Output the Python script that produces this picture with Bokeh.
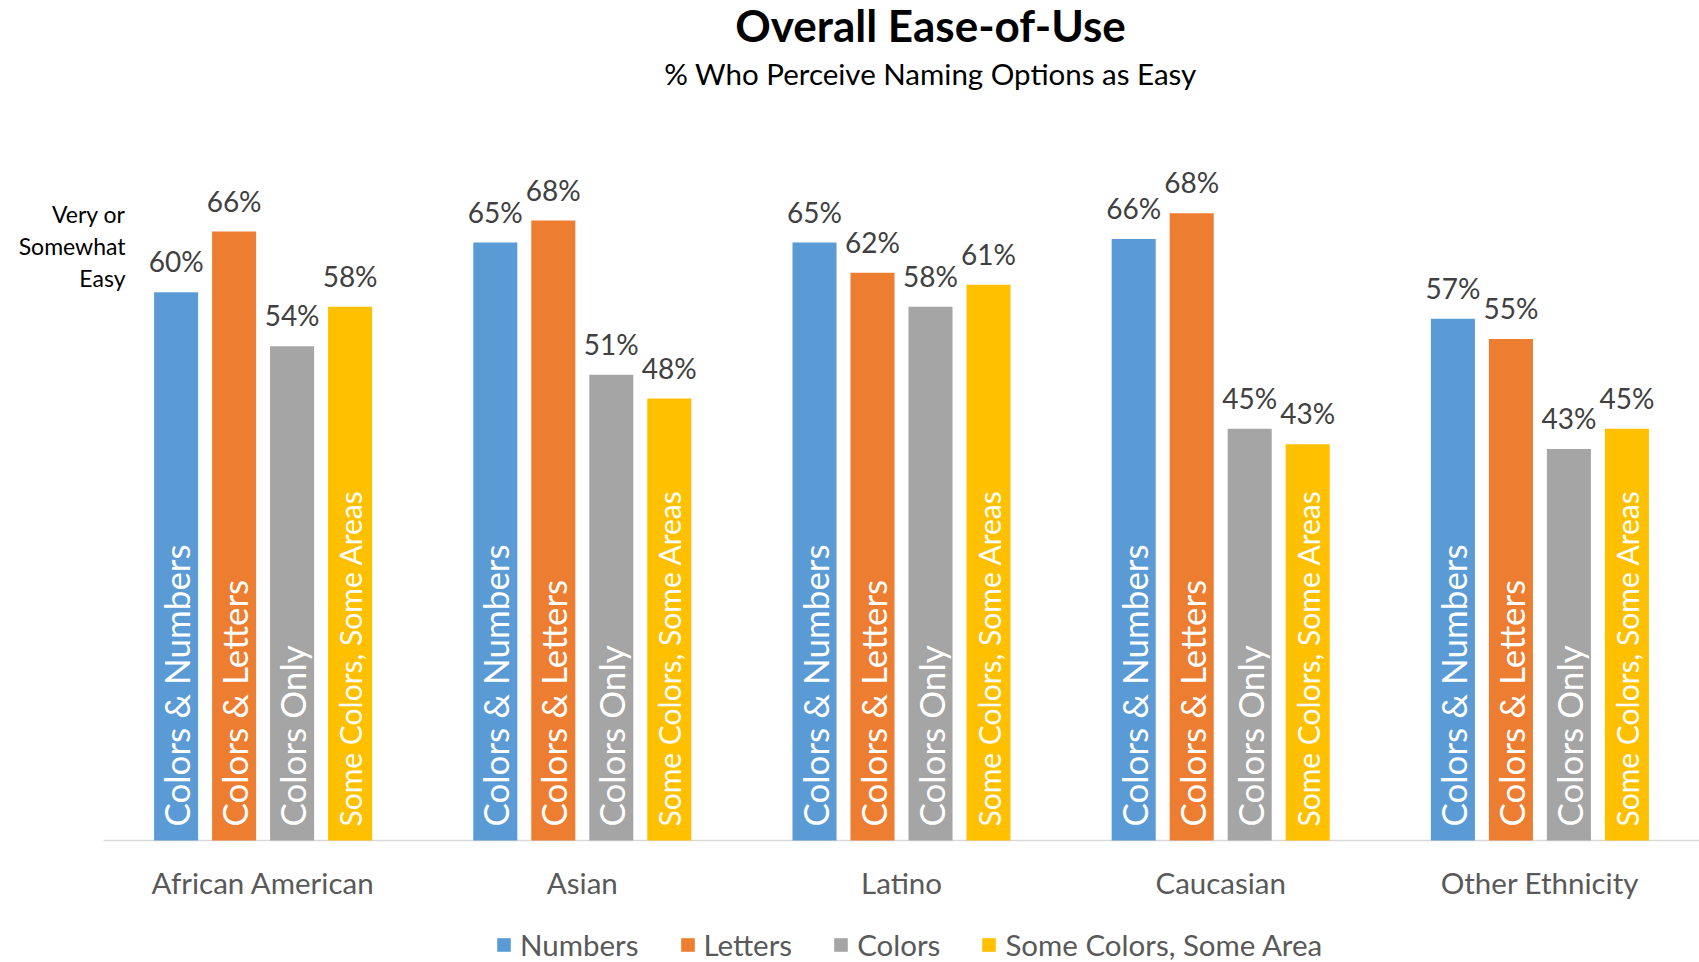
import math
from bokeh.plotting import figure
from bokeh.models import Range1d, ColumnDataSource, Label, Legend, LegendItem
from bokeh.core.properties import value
from bokeh.embed import file_html
from bokeh.resources import INLINE

# ---------------- data ----------------
groups = ["African American", "Asian", "Latino", "Caucasian", "Other Ethnicity"]
series = ["Numbers", "Letters", "Colors", "Some Colors, Some Area"]
bar_labels = ["Colors & Numbers", "Colors & Letters", "Colors Only", "Some Colors, Some Areas"]
numbers = [59.8, 65.2, 65.2, 65.6, 56.9]
letters = [66.4, 67.6, 61.9, 68.4, 54.7]
colors_only = [53.9, 50.8, 58.2, 44.9, 42.7]
some_areas = [58.2, 48.2, 60.6, 43.2, 44.9]
series_values = [numbers, letters, colors_only, some_areas]
palette = ["#5B9BD5", "#ED7D31", "#A5A5A5", "#FFC000"]

FONT = "Lato"
W, H = 1699, 962

# frame covers the whole canvas; ranges chosen so that the category band
# starts ~103px from the left and the baseline sits ~840px from the top
p = figure(x_range=Range1d(-0.8227, 4.5), y_range=Range1d(-13.30, 91.60),
           width=W, height=H, output_backend="svg", toolbar_location=None,
           min_border_left=0, min_border_right=0, min_border_top=0,
           min_border_bottom=0, background_fill_color="white",
           border_fill_color="white")
p.xaxis.visible = False
p.yaxis.visible = False
p.grid.visible = False
p.outline_line_color = None

step = 0.1817
bar_w = 0.138
offsets = [(-1.5 + i) * step for i in range(4)]
inner_sizes = ["35px", "35px", "35px", "30px"]
idx = list(range(len(groups)))

# category axis line
p.segment(x0=[idx[0] - 0.5], x1=[idx[-1] + 0.5], y0=[0], y1=[0],
          line_color="#D9D9D9", line_width=1.5)

renderers = []
for i, vals in enumerate(series_values):
    src = ColumnDataSource(dict(
        x=[k + offsets[i] for k in idx],
        val=vals,
        base=[0] * len(vals),
        lbl=[f"{round(v)}%" for v in vals],
        inner=[bar_labels[i]] * len(groups),
    ))
    r = p.vbar(x="x", top="val", bottom="base", width=bar_w, source=src,
               fill_color=palette[i], line_color=None)
    renderers.append(r)
    p.text(x="x", y="val", text="lbl", source=src,
           text_align="center", text_baseline="alphabetic", y_offset=-31,
           text_color="#404040", text_font=value(FONT), text_font_size="28px")
    p.text(x="x", y="base", text="inner", source=src, angle=math.pi / 2,
           text_align="left", text_baseline="middle", y_offset=-14,
           text_color="white", text_font=value(FONT), text_font_size=inner_sizes[i])

# category labels
cat_src = ColumnDataSource(dict(x=idx, y=[0] * len(groups), t=groups))
p.text(x="x", y="y", text="t", source=cat_src, text_align="center",
       text_baseline="middle", y_offset=42, text_color="#595959",
       text_font=value(FONT), text_font_size="29.5px")

# titles
p.add_layout(Label(x=930, y=938, x_units="screen", y_units="screen",
                   text="Overall Ease-of-Use", text_align="center",
                   text_baseline="alphabetic", text_font=FONT,
                   text_font_style="bold", text_font_size="44px",
                   text_color="black"))
p.add_layout(Label(x=930, y=889, x_units="screen", y_units="screen",
                   text="% Who Perceive Naming Options as Easy", text_align="center",
                   text_baseline="alphabetic", text_font=FONT,
                   text_font_size="29.5px", text_color="black"))

# y label (three lines)
for txt, yy in [("Very or", 749), ("Somewhat", 717), ("Easy", 685)]:
    p.add_layout(Label(x=125, y=yy, x_units="screen", y_units="screen",
                       text=txt, text_align="right", text_baseline="alphabetic",
                       text_font=FONT, text_font_size="23px", text_color="#000000"))

legend = Legend(items=[LegendItem(label=s, renderers=[r]) for s, r in zip(series, renderers)],
                orientation="horizontal", location=(495, 0),
                border_line_color=None, background_fill_alpha=0,
                padding=0, margin=0, spacing=40, label_standoff=8,
                glyph_width=17, glyph_height=17, label_height=32,
                label_text_font=FONT, label_text_font_size="29.5px",
                label_text_color="#595959")
p.add_layout(legend)

open("out.html", "w").write(file_html(p, INLINE))
